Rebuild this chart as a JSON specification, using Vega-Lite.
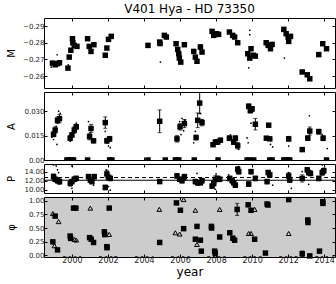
{
"$schema": "https://vega.github.io/schema/vega-lite/v6.json",
"padding": {"left": 5, "top": 2, "right": 1, "bottom": 2},
"spacing": 4,
"bounds": "flush",
"config": {
  "font": "DejaVu Sans",
  "view": {"stroke": "black", "strokeWidth": 1},
  "axis": {"labelFontSize": 7, "titleFontSize": 10, "titleFontWeight": "normal", "tickColor": "black", "labelColor": "#222222", "titleColor": "black", "tickSize": -3, "domain": false, "grid": false, "labelPadding": 3, "titlePadding": 3},
  "axisLeft": {"minExtent": 25, "maxExtent": 25},
  "title": {"fontSize": 12, "fontWeight": "normal", "color": "black"}
},
"datasets": {
  "Msq": [
    {"year":1998.92,"M":-0.2678},{"year":1999.07,"M":-0.2668},{"year":1999.2,"M":-0.2675},{"year":1999.31,"M":-0.268},
    {"year":1999.78,"M":-0.2648},{"year":1999.85,"M":-0.2714},{"year":1999.94,"M":-0.2755},{"year":2000.03,"M":-0.2824},
    {"year":2000.05,"M":-0.28},{"year":2000.13,"M":-0.2784},{"year":2000.28,"M":-0.2778},{"year":2000.87,"M":-0.2824},
    {"year":2000.96,"M":-0.2778},{"year":2001.06,"M":-0.2748},{"year":2001.22,"M":-0.2788},{"year":2001.85,"M":-0.2725},
    {"year":2001.94,"M":-0.2768},{"year":2002.03,"M":-0.282},{"year":2002.18,"M":-0.2838},{"year":2004.22,"M":-0.2784,"e":0.0008},
    {"year":2004.87,"M":-0.2804},{"year":2004.89,"M":-0.2795},{"year":2005.13,"M":-0.2844},{"year":2005.24,"M":-0.2834},
    {"year":2005.78,"M":-0.2794},{"year":2005.87,"M":-0.276},{"year":2005.93,"M":-0.2734},{"year":2005.96,"M":-0.2708},
    {"year":2006.04,"M":-0.2684},{"year":2006.24,"M":-0.2788},{"year":2006.76,"M":-0.2748},{"year":2006.85,"M":-0.2714},
    {"year":2006.94,"M":-0.2689},{"year":2007.13,"M":-0.2774,"e":0.0015},{"year":2007.22,"M":-0.2744},{"year":2007.78,"M":-0.2868},
    {"year":2007.87,"M":-0.2844},{"year":2008.02,"M":-0.2854},{"year":2008.14,"M":-0.285},{"year":2008.74,"M":-0.2864},
    {"year":2008.92,"M":-0.2844},{"year":2009.03,"M":-0.2834},{"year":2009.2,"M":-0.28},{"year":2009.76,"M":-0.2734},
    {"year":2009.87,"M":-0.2708},{"year":2009.94,"M":-0.2764},{"year":2010.06,"M":-0.2725},{"year":2010.18,"M":-0.272},
    {"year":2010.78,"M":-0.28},{"year":2010.89,"M":-0.2784},{"year":2011.02,"M":-0.2764},{"year":2011.11,"M":-0.279},
    {"year":2011.76,"M":-0.288},{"year":2011.89,"M":-0.2854},{"year":2012.0,"M":-0.2834},{"year":2012.03,"M":-0.2808},
    {"year":2012.13,"M":-0.2838},{"year":2012.78,"M":-0.2625},{"year":2013.06,"M":-0.2608},{"year":2013.2,"M":-0.2584},
    {"year":2013.7,"M":-0.2729},{"year":2013.92,"M":-0.2794},{"year":2014.13,"M":-0.2764}
  ],
  "Mdot": [
    {"year":1998.85,"M":-0.2654},{"year":1999.18,"M":-0.2728},{"year":1999.25,"M":-0.2665},{"year":2004.91,"M":-0.2684},
    {"year":2009.87,"M":-0.2874},{"year":2009.87,"M":-0.2848},{"year":2009.81,"M":-0.265},{"year":2011.79,"M":-0.2708},
    {"year":2006.0,"M":-0.27},{"year":1999.8,"M":-0.2668}
  ],
  "Asq": [
    {"year":1998.98,"A":0.0158,"e":0.0015},{"year":1999.07,"A":0.0184,"e":0.002},{"year":1999.2,"A":0.0244,"e":0.002},{"year":1999.31,"A":0.0254,"e":0.0025},
    {"year":1999.9,"A":0.0134,"e":0.0015},{"year":2000.0,"A":0.0154,"e":0.0015},{"year":2000.13,"A":0.0184,"e":0.002},{"year":2000.24,"A":0.0204,"e":0.0015},
    {"year":2000.98,"A":0.0144,"e":0.002},{"year":2001.06,"A":0.0194,"e":0.0025},{"year":2001.2,"A":0.0118,"e":0.001},{"year":2001.85,"A":0.023,"e":0.0035},
    {"year":2001.94,"A":0.0118,"e":0.0015},{"year":2002.09,"A":0.013,"e":0.0015},{"year":2004.87,"A":0.0238,"e":0.007},{"year":2005.83,"A":0.013,"e":0.002},
    {"year":2006.0,"A":0.0204,"e":0.002},{"year":2006.24,"A":0.0224,"e":0.0025},{"year":2006.89,"A":0.0138,"e":0.0015},{"year":2006.98,"A":0.0244,"e":0.0045},
    {"year":2007.09,"A":0.035,"e":0.0065},{"year":2007.22,"A":0.023,"e":0.002},{"year":2007.83,"A":0.0094,"e":0.001},{"year":2007.96,"A":0.011,"e":0.0015},
    {"year":2008.09,"A":0.011,"e":0.001},{"year":2008.24,"A":0.0122,"e":0.001},{"year":2008.74,"A":0.0134,"e":0.0015},{"year":2008.98,"A":0.011,"e":0.0015},
    {"year":2009.07,"A":0.0134,"e":0.0015},{"year":2009.2,"A":0.0088,"e":0.002},{"year":2009.81,"A":0.033,"e":0.0015},{"year":2009.9,"A":0.0304,"e":0.0015},
    {"year":2010.0,"A":0.0314,"e":0.0015},{"year":2010.18,"A":0.022,"e":0.0035},{"year":2010.79,"A":0.0134,"e":0.001},{"year":2010.92,"A":0.0214,"e":0.001},
    {"year":2010.98,"A":0.013,"e":0.001},{"year":2012.03,"A":0.013,"e":0.0015},{"year":2012.78,"A":0.0064,"e":0.001},{"year":2013.09,"A":0.0134,"e":0.0015},
    {"year":2013.2,"A":0.0178,"e":0.0025},{"year":2013.7,"A":0.0174,"e":0.0015},{"year":2013.94,"A":0.0134,"e":0.0015},
    {"year":1999.72,"A":0},{"year":1999.81,"A":0},{"year":1999.9,"A":0},{"year":2000.0,"A":0},{"year":2000.09,"A":0},{"year":2000.87,"A":0},
    {"year":2002.09,"A":0},{"year":2002.22,"A":0},{"year":2004.22,"A":0},{"year":2005.18,"A":0},{"year":2005.74,"A":0},{"year":2005.84,"A":0},
    {"year":2005.93,"A":0},{"year":2006.79,"A":0},{"year":2008.11,"A":0},{"year":2009.72,"A":0},{"year":2009.87,"A":0},{"year":2010.09,"A":0},
    {"year":2010.98,"A":0},{"year":2011.11,"A":0},{"year":2011.76,"A":0},{"year":2011.84,"A":0},{"year":2011.9,"A":0},{"year":2012.0,"A":0},
    {"year":2012.09,"A":0},{"year":2014.13,"A":0}
  ],
  "Adot": [
    {"year":1998.89,"A":0.014},{"year":1998.98,"A":0.0126},{"year":1999.17,"A":0.0096},{"year":1999.26,"A":0.03},{"year":1999.35,"A":0.0286},
    {"year":1999.13,"A":0.0206},{"year":1999.02,"A":0.018},{"year":1999.91,"A":0.0116},{"year":2000.09,"A":0.0196},{"year":2000.24,"A":0.0226},
    {"year":2000.0,"A":0.014},{"year":2000.92,"A":0.0236},{"year":2001.02,"A":0.0156},{"year":2001.2,"A":0.0106},{"year":2001.85,"A":0.0176},
    {"year":2002.03,"A":0.0086},{"year":2002.13,"A":0.0076},{"year":2001.94,"A":0.0106},{"year":2005.98,"A":0.0236},{"year":2006.11,"A":0.0256},
    {"year":2006.05,"A":0.0156},{"year":2006.2,"A":0.018},{"year":2006.29,"A":0.0246},{"year":2006.76,"A":0.0106},{"year":2006.85,"A":0.0176},
    {"year":2007.13,"A":0.0286},{"year":2007.22,"A":0.0246},{"year":2009.72,"A":0.0136},{"year":2009.78,"A":0.0106},{"year":2009.94,"A":0.0226},
    {"year":2011.02,"A":0.0096},{"year":2011.14,"A":0.008},{"year":2012.03,"A":0.0086},{"year":2013.18,"A":0.0272},{"year":2013.1,"A":0.0176},
    {"year":2014.17,"A":0.007},{"year":2013.89,"A":0.0156},{"year":2009.26,"A":0.0066},{"year":2008.0,"A":0.0125},{"year":2008.8,"A":0.0155}
  ],
  "Psq": [
    {"year":1998.98,"P":12.9,"e":0.6},{"year":1999.07,"P":12.3,"e":0.5},{"year":1999.2,"P":12.0,"e":0.5},{"year":1999.31,"P":11.8,"e":0.6},
    {"year":1999.91,"P":11.4,"e":0.6},{"year":2000.0,"P":11.8,"e":0.5},{"year":2000.13,"P":12.3,"e":0.5},{"year":2000.24,"P":12.5,"e":0.5},
    {"year":2000.92,"P":12.9,"e":0.5},{"year":2001.02,"P":12.15,"e":0.6},{"year":2001.11,"P":11.8,"e":0.5},{"year":2001.24,"P":12.9,"e":0.5},
    {"year":2001.85,"P":10.5,"e":0.5},{"year":2001.94,"P":13.5,"e":0.8},{"year":2002.03,"P":12.75,"e":0.5},{"year":2002.13,"P":12.5,"e":0.5},
    {"year":2004.87,"P":11.8,"e":0.4},{"year":2005.83,"P":13.05,"e":0.5},{"year":2005.98,"P":12.3,"e":0.5},{"year":2006.11,"P":12.0,"e":0.5},
    {"year":2006.24,"P":12.9,"e":0.5},{"year":2006.85,"P":11.8,"e":0.5},{"year":2006.98,"P":11.55,"e":0.6},{"year":2007.13,"P":11.55,"e":0.5},
    {"year":2007.22,"P":12.0,"e":0.5},{"year":2007.78,"P":10.8,"e":0.5},{"year":2007.87,"P":11.4,"e":0.6},{"year":2007.96,"P":12.3,"e":0.8},
    {"year":2008.09,"P":12.5,"e":0.5},{"year":2008.2,"P":12.3,"e":0.5},{"year":2008.76,"P":12.5,"e":0.5},{"year":2008.89,"P":12.0,"e":0.5},
    {"year":2008.98,"P":11.55,"e":0.5},{"year":2009.07,"P":11.0,"e":0.5},{"year":2009.2,"P":14.5,"e":0.6},{"year":2009.26,"P":14.0,"e":0.5},
    {"year":2009.81,"P":11.25,"e":0.5},{"year":2009.94,"P":14.0,"e":0.5},{"year":2010.18,"P":12.5,"e":0.5},{"year":2010.83,"P":11.8,"e":0.5},
    {"year":2010.89,"P":13.8,"e":0.5},{"year":2010.98,"P":13.3,"e":0.5},{"year":2012.03,"P":13.05,"e":0.7},{"year":2012.09,"P":12.15,"e":0.5},
    {"year":2012.78,"P":12.5,"e":0.8},{"year":2013.06,"P":14.4,"e":0.5},{"year":2013.14,"P":13.8,"e":0.5},{"year":2013.24,"P":13.6,"e":0.5},
    {"year":2013.7,"P":12.5,"e":0.5},{"year":2013.89,"P":13.8,"e":0.6},{"year":2013.98,"P":14.2,"e":0.6}
  ],
  "Pdot": [
    {"year":1998.98,"P":15.5},{"year":1999.13,"P":15.27},{"year":1999.2,"P":14.4},{"year":1999.26,"P":13.8},{"year":2000.0,"P":15.27},
    {"year":2000.0,"P":10.3},{"year":2001.2,"P":11.0},{"year":2001.91,"P":14.4},{"year":2002.13,"P":9.9},{"year":2002.03,"P":10.7},
    {"year":2006.94,"P":13.6},{"year":2008.0,"P":13.5},{"year":2007.96,"P":10.1},{"year":2008.7,"P":13.3},{"year":2009.26,"P":15.1},
    {"year":2009.9,"P":11.0},{"year":2011.14,"P":11.0},{"year":2012.03,"P":13.8},{"year":2012.18,"P":10.3},{"year":2012.78,"P":14.0},
    {"year":2013.14,"P":11.2},{"year":2013.89,"P":15.5},{"year":2005.9,"P":13.5},{"year":2006.3,"P":12.2}
  ],
  "Fsq": [
    {"year":1998.94,"phi":0.247},{"year":1999.07,"phi":0.718},{"year":1999.2,"phi":0.10},{"year":1999.9,"phi":0.353},{"year":1999.93,"phi":0.31},
    {"year":2000.09,"phi":0.864},{"year":2000.22,"phi":0.864},{"year":2000.98,"phi":0.324},{"year":2001.07,"phi":0.294},{"year":2001.2,"phi":0.236},
    {"year":2001.8,"phi":0.43},{"year":2001.82,"phi":0.38},{"year":2001.94,"phi":0.159},{"year":2001.95,"phi":0.14},{"year":2002.07,"phi":0.864},
    {"year":2004.87,"phi":0.236},{"year":2005.8,"phi":0.959},{"year":2006.02,"phi":0.824},{"year":2006.2,"phi":0.488},{"year":2006.85,"phi":0.295},
    {"year":2006.94,"phi":0.53},{"year":2007.13,"phi":0.277},{"year":2007.18,"phi":0.077},{"year":2007.74,"phi":0.53},{"year":2007.75,"phi":0.5},
    {"year":2007.92,"phi":0.077},{"year":2007.95,"phi":0.04},{"year":2008.2,"phi":0.336},{"year":2008.76,"phi":0.413},{"year":2008.93,"phi":0.312,"e":0.04},
    {"year":2009.03,"phi":0.277},{"year":2009.17,"phi":0.84,"e":0.11},{"year":2009.78,"phi":0.924},{"year":2009.94,"phi":0.824},{"year":2010.14,"phi":0.295},
    {"year":2010.74,"phi":0.042},{"year":2010.83,"phi":0.94},{"year":2010.88,"phi":0.92},{"year":2012.03,"phi":1.02},{"year":2012.78,"phi":0.03,"e":0.05},
    {"year":2013.09,"phi":0.647},{"year":2013.1,"phi":0.6},{"year":2013.2,"phi":-0.01},{"year":2013.74,"phi":0.077},{"year":2013.92,"phi":0.98},{"year":2013.93,"phi":0.95}
  ],
  "Ftri": [
    {"year":1998.94,"phi":0.765},{"year":1999.03,"phi":0.176},{"year":1999.26,"phi":0.617},{"year":2000.14,"phi":0.29},{"year":2000.24,"phi":0.28},
    {"year":2001.02,"phi":0.864},{"year":2002.07,"phi":0.383},{"year":2004.85,"phi":0.84},{"year":2005.74,"phi":0.413},{"year":2005.98,"phi":0.39},
    {"year":2006.2,"phi":1.02},{"year":2006.85,"phi":0.824},{"year":2006.94,"phi":0.2},{"year":2008.2,"phi":0.84},{"year":2007.97,"phi":0.0},
    {"year":2009.81,"phi":0.4},{"year":2009.94,"phi":0.4},{"year":2010.14,"phi":0.84},{"year":2012.03,"phi":0.4}
  ]
},
"vconcat": [
  {
    "width": 291, "height": 70,
    "title": {"text": "V401 Hya - HD 73350", "frame": "group", "offset": 2},
    "layer": [
      {"data": {"name": "Msq"}, "mark": {"type": "square", "filled": true, "color": "black", "size": 30, "opacity": 1},
       "encoding": {
         "x": {"field": "year", "type": "quantitative", "scale": {"domain": [1998.45, 2014.6], "nice": false, "zero": false}, "axis": {"orient": "bottom", "labels": false, "title": null, "values": [2000,2002,2004,2006,2008,2010,2012,2014]}},
         "y": {"field": "M", "type": "quantitative", "scale": {"domain": [-0.2948, -0.2529], "reverse": true, "nice": false, "zero": false}, "axis": {"orient": "left", "values": [-0.29,-0.28,-0.27,-0.26], "format": ".2f", "title": "M"}}
       }},
      {"data": {"name": "Mdot"}, "mark": {"type": "circle", "size": 3, "color": "black", "opacity": 1},
       "encoding": {
         "x": {"field": "year", "type": "quantitative", "scale": {"domain": [1998.45, 2014.6], "nice": false, "zero": false}, "axis": {"orient": "top", "labels": false, "title": null, "values": [2000,2002,2004,2006,2008,2010,2012,2014]}},
         "y": {"field": "M", "type": "quantitative", "scale": {"domain": [-0.2948, -0.2529], "reverse": true, "nice": false, "zero": false}, "axis": {"orient": "right", "labels": false, "title": null, "values": [-0.29,-0.28,-0.27,-0.26]}}
       }},
      {"data": {"name": "Msq"}, "transform": [{"filter": "datum.e > 0"}], "mark": {"type": "errorbar", "color": "black", "ticks": {"size": 4}},
       "encoding": {
         "x": {"field": "year", "type": "quantitative", "scale": {"domain": [1998.45, 2014.6], "nice": false, "zero": false}, "axis": null},
         "y": {"field": "M", "type": "quantitative", "scale": {"domain": [-0.2948, -0.2529], "reverse": true, "nice": false, "zero": false}, "axis": null},
         "yError": {"field": "e"}
       }}
    ],
    "resolve": {"axis": {"x": "independent", "y": "independent"}}
  },
  {
    "width": 291, "height": 68,
    "layer": [
      {"data": {"name": "Asq"}, "transform": [{"filter": "datum.e > 0"}], "mark": {"type": "errorbar", "color": "black", "ticks": {"size": 4}},
       "encoding": {
         "x": {"field": "year", "type": "quantitative", "scale": {"domain": [1998.45, 2014.6], "nice": false, "zero": false}, "axis": null},
         "y": {"field": "A", "type": "quantitative", "scale": {"domain": [0, 0.0418], "nice": false, "zero": false}, "axis": null},
         "yError": {"field": "e"}
       }},
      {"data": {"name": "Asq"}, "mark": {"type": "square", "filled": true, "color": "black", "size": 30, "opacity": 1, "clip": true},
       "encoding": {
         "x": {"field": "year", "type": "quantitative", "scale": {"domain": [1998.45, 2014.6], "nice": false, "zero": false}, "axis": {"orient": "bottom", "labels": false, "title": null, "values": [2000,2002,2004,2006,2008,2010,2012,2014]}},
         "y": {"field": "A", "type": "quantitative", "scale": {"domain": [0, 0.0418], "nice": false, "zero": false}, "axis": {"orient": "left", "values": [0, 0.015, 0.03], "labelExpr": "datum.value == 0 ? '0.00' : format(datum.value, '.3f')", "title": "A"}}
       }},
      {"data": {"name": "Adot"}, "mark": {"type": "circle", "size": 3, "color": "black", "opacity": 1},
       "encoding": {
         "x": {"field": "year", "type": "quantitative", "scale": {"domain": [1998.45, 2014.6], "nice": false, "zero": false}, "axis": {"orient": "top", "labels": false, "title": null, "values": [2000,2002,2004,2006,2008,2010,2012,2014]}},
         "y": {"field": "A", "type": "quantitative", "scale": {"domain": [0, 0.0418], "nice": false, "zero": false}, "axis": {"orient": "right", "labels": false, "title": null, "values": [0, 0.015, 0.03]}}
       }}
    ],
    "resolve": {"axis": {"x": "independent", "y": "independent"}}
  },
  {
    "width": 291, "height": 29,
    "layer": [
      {"data": {"values": [{"P": 12.1}]}, "mark": {"type": "rule", "color": "black", "strokeWidth": 1},
       "encoding": {"y": {"field": "P", "type": "quantitative", "scale": {"domain": [9.27, 15.7], "nice": false, "zero": false}, "axis": null}}},
      {"data": {"values": [{"P": 12.7}]}, "mark": {"type": "rule", "color": "black", "strokeWidth": 1, "strokeDash": [4, 3]},
       "encoding": {"y": {"field": "P", "type": "quantitative", "scale": {"domain": [9.27, 15.7], "nice": false, "zero": false}, "axis": null}}},
      {"data": {"name": "Psq"}, "mark": {"type": "errorbar", "color": "black", "ticks": {"size": 4}},
       "encoding": {
         "x": {"field": "year", "type": "quantitative", "scale": {"domain": [1998.45, 2014.6], "nice": false, "zero": false}, "axis": null},
         "y": {"field": "P", "type": "quantitative", "scale": {"domain": [9.27, 15.7], "nice": false, "zero": false}, "axis": null},
         "yError": {"field": "e"}
       }},
      {"data": {"name": "Psq"}, "mark": {"type": "square", "filled": true, "color": "black", "size": 30, "opacity": 1},
       "encoding": {
         "x": {"field": "year", "type": "quantitative", "scale": {"domain": [1998.45, 2014.6], "nice": false, "zero": false}, "axis": {"orient": "bottom", "labels": false, "title": null, "values": [2000,2002,2004,2006,2008,2010,2012,2014]}},
         "y": {"field": "P", "type": "quantitative", "scale": {"domain": [9.27, 15.7], "nice": false, "zero": false}, "axis": {"orient": "left", "values": [10, 12, 14], "format": ".2f", "title": "P"}}
       }},
      {"data": {"name": "Pdot"}, "mark": {"type": "circle", "size": 3, "color": "black", "opacity": 1},
       "encoding": {
         "x": {"field": "year", "type": "quantitative", "scale": {"domain": [1998.45, 2014.6], "nice": false, "zero": false}, "axis": {"orient": "top", "labels": false, "title": null, "values": [2000,2002,2004,2006,2008,2010,2012,2014]}},
         "y": {"field": "P", "type": "quantitative", "scale": {"domain": [9.27, 15.7], "nice": false, "zero": false}, "axis": {"orient": "right", "labels": false, "title": null, "values": [10, 12, 14]}}
       }}
    ],
    "resolve": {"axis": {"x": "independent", "y": "independent"}}
  },
  {
    "width": 291, "height": 60,
    "view": {"fill": "#cccccc", "stroke": "black"},
    "layer": [
      {"data": {"name": "Fsq"}, "transform": [{"filter": "datum.e > 0"}], "mark": {"type": "errorbar", "color": "black", "ticks": {"size": 4}},
       "encoding": {
         "x": {"field": "year", "type": "quantitative", "scale": {"domain": [1998.45, 2014.6], "nice": false, "zero": false}, "axis": null},
         "y": {"field": "phi", "type": "quantitative", "scale": {"domain": [-0.03, 1.067], "nice": false, "zero": false}, "axis": null},
         "yError": {"field": "e"}
       }},
      {"data": {"name": "Fsq"}, "mark": {"type": "square", "filled": true, "color": "black", "size": 30, "opacity": 1},
       "encoding": {
         "x": {"field": "year", "type": "quantitative", "scale": {"domain": [1998.45, 2014.6], "nice": false, "zero": false}, "axis": {"orient": "bottom", "values": [2000,2002,2004,2006,2008,2010,2012,2014], "format": "d", "title": "year", "titleFontSize": 12, "labelFontSize": 8, "titlePadding": 2, "labelPadding": 2}},
         "y": {"field": "phi", "type": "quantitative", "scale": {"domain": [-0.03, 1.067], "nice": false, "zero": false}, "axis": {"orient": "left", "values": [0, 0.25, 0.5, 0.75, 1], "format": ".2f", "title": "φ"}}
       }},
      {"data": {"name": "Ftri"}, "mark": {"type": "point", "shape": "triangle-up", "filled": false, "stroke": "black", "strokeWidth": 1, "size": 22, "opacity": 1},
       "encoding": {
         "x": {"field": "year", "type": "quantitative", "scale": {"domain": [1998.45, 2014.6], "nice": false, "zero": false}, "axis": {"orient": "top", "labels": false, "title": null, "values": [2000,2002,2004,2006,2008,2010,2012,2014]}},
         "y": {"field": "phi", "type": "quantitative", "scale": {"domain": [-0.03, 1.067], "nice": false, "zero": false}, "axis": {"orient": "right", "labels": false, "title": null, "values": [0, 0.25, 0.5, 0.75, 1]}}
       }}
    ],
    "resolve": {"axis": {"x": "independent", "y": "independent"}}
  }
]
}
